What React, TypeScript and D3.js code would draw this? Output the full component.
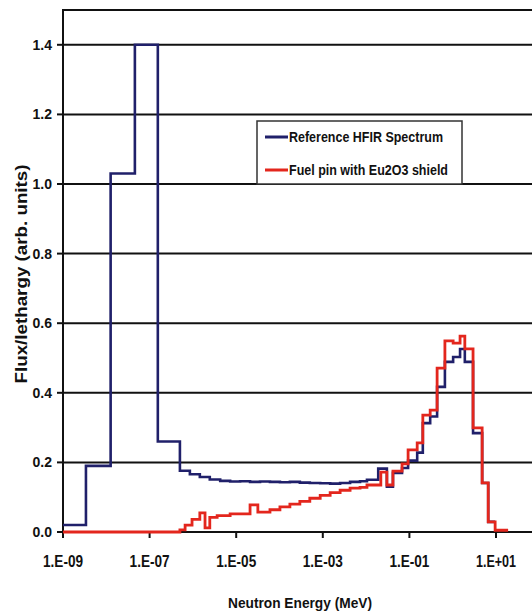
import React from 'react';
import * as d3 from 'd3';

// ── Data (energies as log10(MeV) bin edges) ──────────────────────────────────
const BLUE_LOG_EDGES = [
  -9, -8.47, -7.9, -7.34, -6.81, -6.3, -6.07, -5.84, -5.61, -5.37, -5.14, -4.91,
  -4.68, -4.45, -4.22, -3.99, -3.76, -3.53, -3.3, -3.06, -2.83, -2.6, -2.37,
  -2.14, -1.98, -1.72, -1.52, -1.38, -1.17, -1.03, -0.82, -0.69, -0.52, -0.36,
  -0.18, 0.01, 0.17, 0.28, 0.47, 0.68, 0.82, 0.98,
];
const BLUE_FLUX = [
  0.02, 0.19, 1.03, 1.4, 0.26,
  0.176, 0.166, 0.158, 0.151, 0.147, 0.145, 0.146, 0.144, 0.145, 0.144, 0.143,
  0.144, 0.142, 0.141, 0.14, 0.139, 0.141, 0.144, 0.146,
  0.15, 0.182, 0.13, 0.17, 0.184, 0.205, 0.228, 0.313, 0.332, 0.417, 0.489,
  0.503, 0.526, 0.489, 0.284, 0.141, 0.029,
];

const RED_LOG_EDGES = [
  -9, -6.3, -6.18, -6.02, -5.84, -5.72, -5.61, -5.44, -5.14, -4.68, -4.5, -4.22,
  -3.99, -3.76, -3.53, -3.3, -3.06, -2.83, -2.6, -2.37, -2.14, -1.98, -1.66,
  -1.52, -1.38, -1.17, -1.03, -0.82, -0.69, -0.52, -0.36, -0.18, 0.01, 0.17,
  0.28, 0.47, 0.68, 0.82, 0.98, 1.28,
];
const RED_FLUX = [
  0, 0.006, 0.02, 0.036, 0.055, 0.012, 0.042, 0.047, 0.052, 0.078, 0.057, 0.064,
  0.072, 0.08, 0.088, 0.097, 0.105, 0.113, 0.12, 0.126, 0.128, 0.135, 0.172,
  0.135, 0.175, 0.196, 0.236, 0.256, 0.336, 0.35, 0.471, 0.549, 0.543, 0.563,
  0.526, 0.299, 0.141, 0.029, 0.005,
];

const X_TICKS = [1e-9, 1e-7, 1e-5, 1e-3, 1e-1, 1e1];
const X_TICK_LABELS = ['1.E-09', '1.E-07', '1.E-05', '1.E-03', '1.E-01', '1.E+01'];
const Y_TICKS = [0, 0.2, 0.4, 0.6, 0.8, 1.0, 1.2, 1.4];
const Y_TICK_LABELS = ['0.0', '0.2', '0.4', '0.6', '0.8', '1.0', '1.2', '1.4'];

const SERIES_NAMES = ['Reference HFIR Spectrum', 'Fuel pin with Eu2O3 shield'];
const SERIES_COLORS = ['#20206a', '#e3261d'];

// ── Layout ───────────────────────────────────────────────────────────────────
const W = 532;
const H = 613;
const PLOT = { left: 63, top: 10, bottom: 532, right: 532 };
const PX_PER_DECADE = 43.3;
const FONT = '"Liberation Sans", Arial, sans-serif';

const x = d3
  .scaleLog()
  .domain([1e-9, 1e2])
  .range([PLOT.left, PLOT.left + 11 * PX_PER_DECADE]);
const y = d3.scaleLinear().domain([0, 1.5]).range([PLOT.bottom, PLOT.top]);

function stepPath(logEdges: number[], values: number[]) {
  const pts: [number, number][] = values.map((v, i) => [Math.pow(10, logEdges[i]), v]);
  pts.push([Math.pow(10, logEdges[logEdges.length - 1]), values[values.length - 1]]);
  return d3
    .line<[number, number]>()
    .x((d) => x(d[0]))
    .y((d) => y(d[1]))
    .curve(d3.curveStepAfter)(pts) as string;
}

export default function App() {
  const bluePath = stepPath(BLUE_LOG_EDGES, BLUE_FLUX);
  const redPath = stepPath(RED_LOG_EDGES, RED_FLUX);

  return (
    <svg
      width={W}
      height={H}
      style={{ position: 'absolute', left: 0, top: 0, background: '#fff' }}
      fontFamily={FONT}
      fontWeight="bold"
    >
      {/* grid lines + top border */}
      {Y_TICKS.filter((t) => t > 0).map((t) => (
        <line key={t} x1={PLOT.left} x2={PLOT.right} y1={y(t)} y2={y(t)} stroke="#111" strokeWidth={2} />
      ))}
      <line x1={PLOT.left} x2={PLOT.right} y1={y(1.5)} y2={y(1.5)} stroke="#111" strokeWidth={2} />

      {/* axes */}
      <line x1={PLOT.left} x2={PLOT.left} y1={PLOT.top - 1} y2={PLOT.bottom + 1} stroke="#111" strokeWidth={2} />
      <line x1={PLOT.left} x2={PLOT.right} y1={PLOT.bottom} y2={PLOT.bottom} stroke="#111" strokeWidth={2} />

      {Y_TICKS.map((t, i) => (
        <g key={t}>
          <line x1={PLOT.left - 6} x2={PLOT.left} y1={y(t)} y2={y(t)} stroke="#111" strokeWidth={2} />
          <text x={52} y={y(t) + 5} textAnchor="end" fontSize={14} fill="#111">
            {Y_TICK_LABELS[i]}
          </text>
        </g>
      ))}

      {X_TICKS.map((t, i) => (
        <g key={t}>
          <line x1={x(t)} x2={x(t)} y1={PLOT.bottom} y2={PLOT.bottom + 6} stroke="#111" strokeWidth={2} />
          <text
            x={x(t)}
            y={567}
            textAnchor="middle"
            fontSize={16}
            fill="#111"
            textLength={40}
            lengthAdjust="spacingAndGlyphs"
          >
            {X_TICK_LABELS[i]}
          </text>
        </g>
      ))}

      {/* spectra */}
      <path d={bluePath} fill="none" stroke={SERIES_COLORS[0]} strokeWidth={2.6} strokeLinejoin="miter" />
      <path d={redPath} fill="none" stroke={SERIES_COLORS[1]} strokeWidth={2.8} strokeLinejoin="miter" />

      {/* legend */}
      <rect x={257} y={121} width={205} height={63} fill="#fff" stroke="#333" strokeWidth={1.5} />
      {SERIES_NAMES.map((name, i) => (
        <g key={name}>
          <line x1={265} x2={288} y1={137 + i * 33} y2={137 + i * 33} stroke={SERIES_COLORS[i]} strokeWidth={3} />
          <text
            x={289}
            y={142 + i * 33}
            fontSize={15}
            fill="#111"
            textLength={i === 0 ? 154 : 159}
            lengthAdjust="spacingAndGlyphs"
          >
            {name}
          </text>
        </g>
      ))}

      {/* axis titles */}
      <text
        x={300}
        y={608}
        textAnchor="middle"
        fontSize={15}
        fill="#111"
        textLength={144}
        lengthAdjust="spacingAndGlyphs"
      >
        Neutron Energy (MeV)
      </text>
      <text
        transform="translate(27,274) rotate(-90)"
        textAnchor="middle"
        fontSize={16}
        fill="#111"
        textLength={219}
        lengthAdjust="spacingAndGlyphs"
      >
        Flux/lethargy (arb. units)
      </text>
    </svg>
  );
}
